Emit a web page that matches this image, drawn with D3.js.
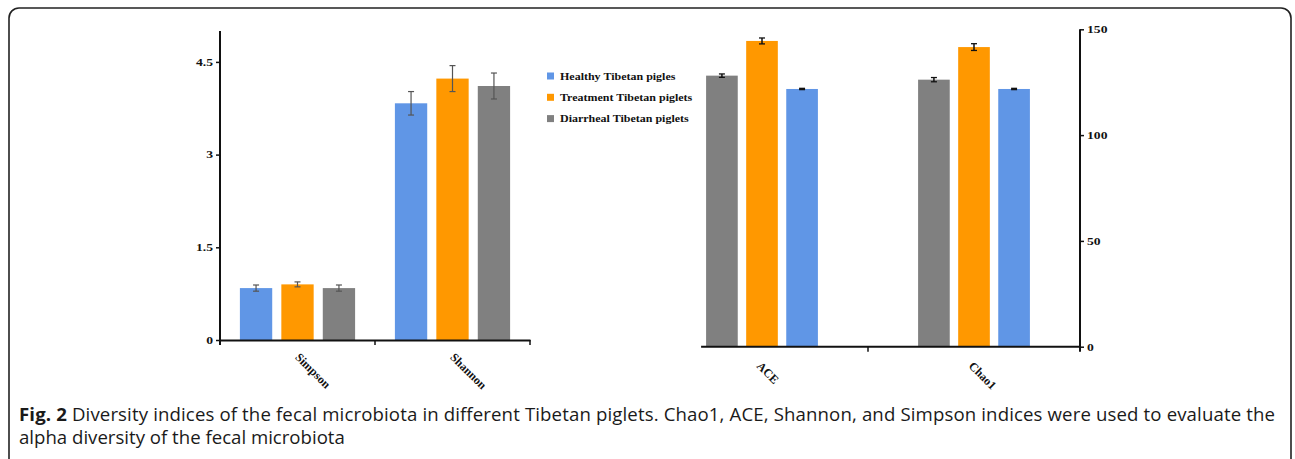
<!DOCTYPE html>
<html>
<head>
<meta charset="utf-8">
<script src="https://cdn.jsdelivr.net/npm/d3@7"></script>
<style>
  body { margin: 0; background: #fff; }
  svg { display: block; }
</style>
</head>
<body>
<div id="area"></div>
<script>
// data
var groups = ["Healthy Tibetan pigles", "Treatment Tibetan piglets", "Diarrheal Tibetan piglets"];
var groupColors = ["#6096e6", "#ff9800", "#808080"];

var leftIndices = ["Simpson", "Shannon"];
var leftMean = [[0.84, 0.90, 0.84], [3.83, 4.23, 4.11]];   // per index: healthy, treatment, diarrheal
var leftErr  = [[0.05, 0.04, 0.05], [0.19, 0.21, 0.21]];
var leftTicks = [0, 1.5, 3, 4.5];

var rightIndices = ["ACE", "Chao1"];
var rightOrder = [2, 1, 0];                                 // diarrheal, treatment, healthy
var rightMean = [[121.8, 144.5, 128.1], [121.8, 141.6, 126.2]];
var rightErr  = [[0.3, 1.4, 0.8], [0.3, 1.6, 1.0]];
var rightTicks = [0, 50, 100, 150];

var W = 1295, H = 459, sx = 1.3;

var svg = d3.select("#area").append("svg")
    .attr("width", W)
    .attr("height", H);

// frame
svg.append("rect")
    .attr("x", 9).attr("y", 8)
    .attr("width", 1282).attr("height", 470)
    .attr("rx", 10)
    .attr("fill", "none")
    .attr("stroke", "#222")
    .attr("stroke-width", 1.6);

// stretch text horizontally (figure is widened)
function stretch(sel, k) {
  sel.each(function() {
    var t = d3.select(this), x = +t.attr("x") || 0;
    t.attr("x", 0).attr("transform", "translate(" + x + ",0) scale(" + k + ",1)");
  });
}

function styleAxis(g) {
  g.select(".domain").attr("stroke", "#111").attr("stroke-width", 2);
  g.selectAll(".tick line").attr("stroke", "#111").attr("stroke-width", 1.5);
  g.selectAll(".tick text")
      .attr("font-family", "'Liberation Serif', 'Times New Roman', serif")
      .attr("font-weight", "bold")
      .attr("font-size", "10.5px")
      .attr("fill", "#111");
}

// ---------- left panel ----------
var xL = d3.scaleBand().domain(leftIndices).range([220, 530]);
var subL = d3.scaleBand().domain([0, 1, 2]).range([0, xL.bandwidth()])
    .paddingInner(0.22).paddingOuter(0.48);
var yL = d3.scaleLinear().domain([0, 5]).range([340, 31]);

var gL = svg.append("g");

leftIndices.forEach(function(idx, i) {
  var gg = gL.append("g").attr("transform", "translate(" + xL(idx) + ",0)");
  [0, 1, 2].forEach(function(j) {
    var cx = subL(j) + subL.bandwidth() / 2;
    gg.append("rect")
        .attr("x", subL(j))
        .attr("width", subL.bandwidth())
        .attr("y", yL(leftMean[i][j]))
        .attr("height", yL(0) - yL(leftMean[i][j]))
        .attr("fill", groupColors[j]);
    var lo = yL(leftMean[i][j] - leftErr[i][j]), hi = yL(leftMean[i][j] + leftErr[i][j]);
    gg.append("line").attr("x1", cx).attr("x2", cx).attr("y1", lo).attr("y2", hi)
        .attr("stroke", "#555").attr("stroke-width", 1.2);
    [lo, hi].forEach(function(v) {
      gg.append("line").attr("x1", cx - 3).attr("x2", cx + 3).attr("y1", v).attr("y2", v)
          .attr("stroke", "#555").attr("stroke-width", 1.2);
    });
  });
});

var axL = gL.append("g")
    .attr("transform", "translate(220,0)")
    .call(d3.axisLeft(yL).tickValues(leftTicks).tickSize(4).tickSizeOuter(0)
      .tickFormat(function(d) { return d; }));
styleAxis(axL);
axL.select(".domain").attr("d", "M0," + (yL(0) + 5) + "V" + yL.range()[1]);
stretch(axL.selectAll(".tick text"), sx);

var axLx = gL.append("g")
    .attr("transform", "translate(0," + yL(0) + ")")
    .call(d3.axisBottom(xL).tickSize(0).tickSizeOuter(0));
styleAxis(axLx);
axLx.selectAll(".tick text")
    .attr("font-size", "12px")
    .attr("text-anchor", "start")
    .attr("transform", "translate(0,15) rotate(45)")
    .attr("x", 0).attr("y", 0).attr("dy", "0.35em");
// boundary ticks between categories
leftIndices.slice(1).concat(["_end"]).forEach(function(d, i) {
  var xx = xL.range()[0] + xL.step() * (i + 1);
  axLx.append("line").attr("x1", xx).attr("x2", xx).attr("y1", 0).attr("y2", 5)
      .attr("stroke", "#111").attr("stroke-width", 1.5);
});

// legend
var leg = svg.append("g").attr("transform", "translate(547,76)");
groups.forEach(function(name, j) {
  var row = leg.append("g").attr("transform", "translate(0," + (j * 21.3) + ")");
  row.append("rect").attr("x", 0).attr("y", -3.5).attr("width", 7).attr("height", 7)
      .attr("fill", groupColors[j]);
  row.append("text")
      .attr("transform", "translate(13,0) scale(1.2,1)")
      .attr("dy", "0.35em")
      .attr("font-family", "'Liberation Serif', 'Times New Roman', serif")
      .attr("font-weight", "bold")
      .attr("font-size", "10px")
      .attr("fill", "#111")
      .text(name);
});

// ---------- right panel ----------
var xR = d3.scaleBand().domain(rightIndices).range([656, 1080]);
var subR = d3.scaleBand().domain([0, 1, 2]).range([0, xR.bandwidth()])
    .paddingInner(0.21).paddingOuter(1.25);
var yR = d3.scaleLinear().domain([0, 150]).range([346.7, 29.3]);

var gR = svg.append("g");

rightIndices.forEach(function(idx, i) {
  var gg = gR.append("g").attr("transform", "translate(" + xR(idx) + ",0)");
  rightOrder.forEach(function(j, k) {
    var cx = subR(k) + subR.bandwidth() / 2;
    var m = rightMean[i][j], e = rightErr[i][j];
    gg.append("rect")
        .attr("x", subR(k))
        .attr("width", subR.bandwidth())
        .attr("y", yR(m))
        .attr("height", yR(0) - yR(m))
        .attr("fill", groupColors[j]);
    var lo = yR(m - e), hi = yR(m + e);
    gg.append("line").attr("x1", cx).attr("x2", cx).attr("y1", lo).attr("y2", hi)
        .attr("stroke", "#111").attr("stroke-width", 1.5);
    [lo, hi].forEach(function(v) {
      gg.append("line").attr("x1", cx - 3).attr("x2", cx + 3).attr("y1", v).attr("y2", v)
          .attr("stroke", "#111").attr("stroke-width", 1.3);
    });
  });
});

var axR = gR.append("g")
    .attr("transform", "translate(1080,0)")
    .call(d3.axisRight(yR).tickValues(rightTicks).tickSize(4).tickSizeOuter(0));
styleAxis(axR);
axR.select(".domain").attr("d", "M0," + (yR(0) + 5) + "V" + yR.range()[1]);
stretch(axR.selectAll(".tick text"), sx);

var axRx = gR.append("g")
    .attr("transform", "translate(0," + yR(0) + ")")
    .call(d3.axisBottom(xR).tickSize(0).tickSizeOuter(0));
styleAxis(axRx);
axRx.select(".domain").attr("d", "M" + (xR(rightIndices[0]) + subR(0) - 5) + ",0H" + xR.range()[1]);
axRx.selectAll(".tick text")
    .attr("font-size", "12px")
    .attr("text-anchor", "start")
    .attr("transform", "translate(-3,17) rotate(45)")
    .attr("x", 0).attr("y", 0).attr("dy", "0.35em");
var midX = xR.range()[0] + xR.step();
axRx.append("line").attr("x1", midX).attr("x2", midX).attr("y1", 0).attr("y2", 5)
    .attr("stroke", "#111").attr("stroke-width", 1.5);

// ---------- caption ----------
var capFont = "'Open Sans', 'Noto Sans', sans-serif";
var line2 = svg.append("text")
    .attr("x", 19).attr("y", 444)
    .attr("font-family", capFont)
    .attr("font-size", "17px")
    .attr("fill", "#1a1a1a")
    .text("alpha diversity of the fecal microbiota");
var fs = 17 * 326 / line2.node().getComputedTextLength();
line2.attr("font-size", fs + "px");

var line1 = svg.append("text")
    .attr("x", 19).attr("y", 421)
    .attr("font-family", capFont)
    .attr("font-size", fs + "px")
    .attr("fill", "#1a1a1a");
line1.append("tspan").attr("font-weight", "bold").text("Fig. 2");
line1.append("tspan").text(" Diversity indices of the fecal microbiota in different Tibetan piglets. Chao1, ACE, Shannon, and Simpson indices were used to evaluate the");
line1.attr("textLength", 1256).attr("lengthAdjust", "spacing");
</script>
</body>
</html>
